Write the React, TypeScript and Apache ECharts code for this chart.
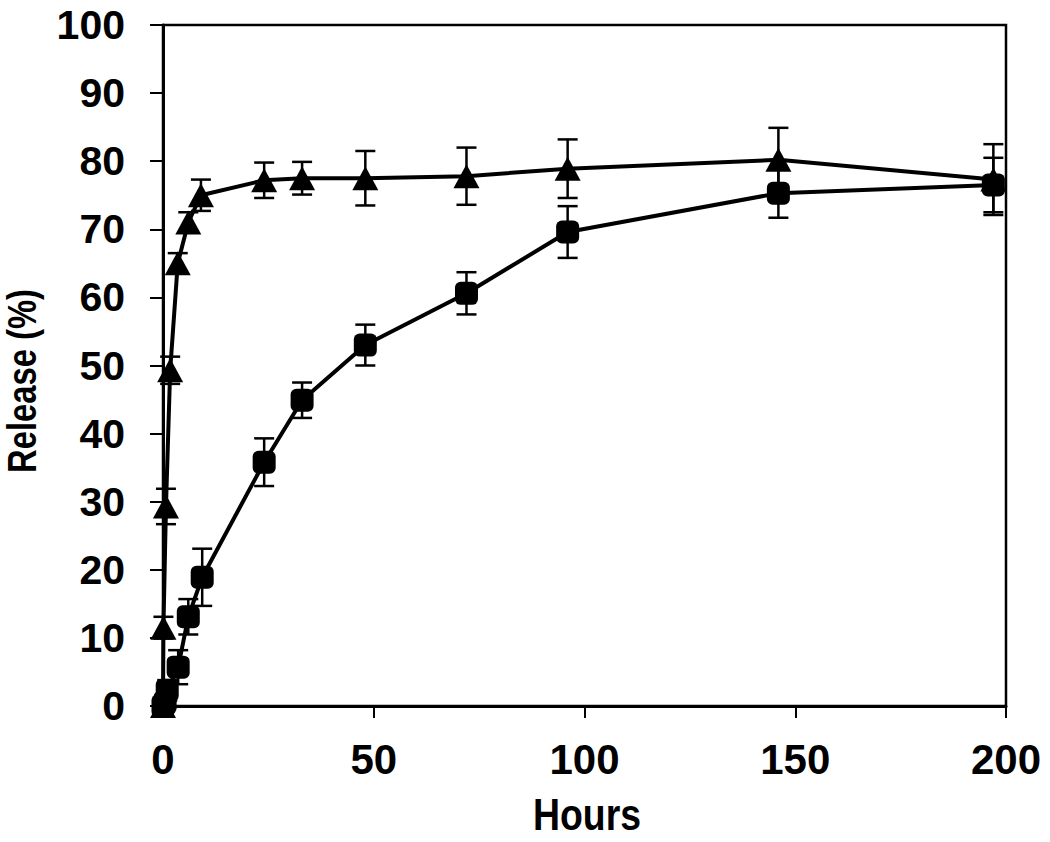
import React, { useEffect, useRef } from "react";
import * as echarts from "echarts";

// Fast release (triangles)
const triHours = [0, 0.1, 0.7, 1.7, 3.5, 6, 9, 24, 33, 48, 72, 96, 146, 197];
const triValues = [0, 11.5, 29.3, 49.3, 65, 71, 75, 77.2, 77.5, 77.5, 77.8, 78.9, 80.2, 77.3];
const triErrors = [0.5, 1.6, 2.6, 2, 1.5, 1.5, 2.3, 2.6, 2.4, 4, 4.2, 4.3, 4.7, 5.2];

// Slow release (squares)
const sqHours = [0, 0.5, 1, 3.6, 6, 9.3, 24, 33, 48, 72, 96, 146, 197];
const sqValues = [0, 0.5, 2.3, 5.7, 13.1, 18.9, 35.8, 44.9, 53.0, 60.6, 69.6, 75.3, 76.5];
const sqErrors = [0.3, 1, 1.5, 2.5, 2.6, 4.2, 3.5, 2.6, 3, 3.1, 3.8, 3.6, 4];

const yTicks = [0, 10, 20, 30, 40, 50, 60, 70, 80, 90, 100];
const xTicks = [0, 50, 100, 150, 200];

const xTitle = "Hours";
const yTitle = "Release (%)";

const FONT = "'Liberation Sans', Arial, sans-serif";

function errorSeries(hours: number[], values: number[], errors: number[]) {
  return {
    type: "custom",
    data: hours.map((h, i) => [h, values[i], errors[i]]),
    renderItem: (params: any, api: any) => {
      const x = api.value(0);
      const y = api.value(1);
      const e = api.value(2);
      const top = api.coord([x, y + e]);
      const bot = api.coord([x, y - e]);
      const half = 10;
      const style = { stroke: "#000", lineWidth: 2.5 };
      return {
        type: "group",
        children: [
          { type: "line", shape: { x1: top[0], y1: top[1], x2: bot[0], y2: bot[1] }, style },
          { type: "line", shape: { x1: top[0] - half, y1: top[1], x2: top[0] + half, y2: top[1] }, style },
          { type: "line", shape: { x1: bot[0] - half, y1: bot[1], x2: bot[0] + half, y2: bot[1] }, style },
        ],
      };
    },
    z: 1,
    silent: true,
  };
}

export default function App() {
  const ref = useRef<HTMLDivElement>(null);
  useEffect(() => {
    if (!ref.current) return;
    const chart = echarts.init(ref.current, null, { renderer: "svg" });
    chart.setOption({
      animation: false,
      backgroundColor: "#fff",
      grid: {
        left: 163,
        right: 44,
        top: 25,
        bottom: 136,
        show: true,
        borderColor: "#000",
        borderWidth: 2.5,
        backgroundColor: "transparent",
      },
      xAxis: {
        type: "value",
        min: xTicks[0],
        max: xTicks[xTicks.length - 1],
        interval: 50,
        axisLine: { show: true, lineStyle: { color: "#000", width: 3 } },
        axisTick: { show: true, inside: false, length: 12, lineStyle: { color: "#000", width: 2 } },
        splitLine: { show: false },
        axisLabel: {
          color: "#000",
          fontSize: 42,
          fontWeight: "bold",
          fontFamily: FONT,
          margin: 32,
        },
      },
      yAxis: {
        type: "value",
        min: yTicks[0],
        max: yTicks[yTicks.length - 1],
        interval: 10,
        axisLine: { show: true, lineStyle: { color: "#000", width: 3 } },
        axisTick: { show: true, inside: false, length: 13, lineStyle: { color: "#000", width: 2 } },
        splitLine: { show: false },
        axisLabel: {
          color: "#000",
          fontSize: 41,
          fontWeight: "bold",
          fontFamily: FONT,
          margin: 38,
        },
      },
      graphic: [
        {
          type: "text",
          x: 587,
          y: 815,
          scaleX: 0.85,
          style: {
            text: xTitle,
            fill: "#000",
            font: `bold 44px ${FONT}`,
            align: "center",
            verticalAlign: "middle",
          },
        },
        {
          type: "text",
          x: 22,
          y: 381,
          rotation: Math.PI / 2,
          scaleX: 0.82,
          style: {
            text: yTitle,
            fill: "#000",
            font: `bold 40px ${FONT}`,
            align: "center",
            verticalAlign: "middle",
          },
        },
      ],
      series: [
        errorSeries(triHours, triValues, triErrors),
        errorSeries(sqHours, sqValues, sqErrors),
        {
          type: "line",
          data: sqHours.map((h, i) => [h, sqValues[i]]),
          symbol: "roundRect",
          symbolSize: 23,
          showAllSymbol: true,
          lineStyle: { color: "#000", width: 4 },
          itemStyle: { color: "#000", borderRadius: 3 },
          z: 3,
        },
        {
          type: "line",
          data: triHours.map((h, i) => [h, triValues[i]]),
          symbol: "triangle",
          symbolSize: [26, 24],
          showAllSymbol: true,
          lineStyle: { color: "#000", width: 4 },
          itemStyle: { color: "#000" },
          z: 3,
        },
      ],
    });
    return () => chart.dispose();
  }, []);
  return (
    <div
      ref={ref}
      style={{ position: "fixed", left: 0, top: 0, width: 1050, height: 842, background: "#fff" }}
    />
  );
}
